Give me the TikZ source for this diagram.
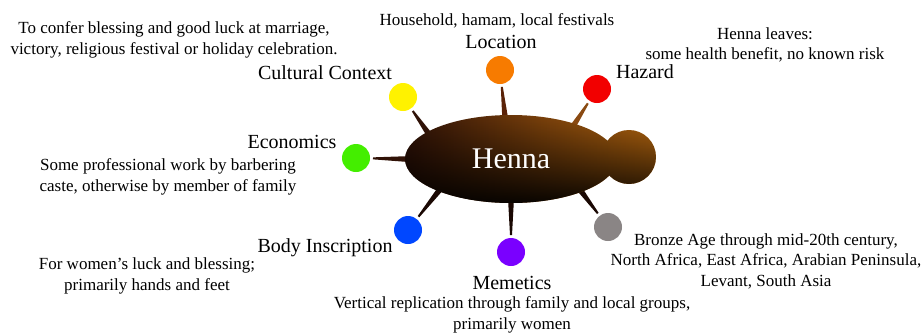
\documentclass[tikz,border=0pt]{standalone}
\usepackage{fontspec}
\setmainfont{Liberation Serif}
\usetikzlibrary{shapes.geometric, calc, fadings, backgrounds}

\definecolor{hennadark}{HTML}{301207}
\definecolor{hennared}{HTML}{923A16}
\definecolor{hennaorange}{HTML}{B8680F}
\definecolor{spikedark}{HTML}{1A0803}
\definecolor{spikebrown}{HTML}{5A2208}
\definecolor{spikeorange}{HTML}{8A4A12}
\tikzfading[name=hennafade, top color=transparent!100, middle color=transparent!88, bottom color=transparent!8]

\NewDocumentCommand{\spike}{m m O{spikedark}}{%
  \coordinate (sb) at ($(henna.#1)!-5pt!(#2)$);
  \coordinate (st) at ($(#2)!17pt!(sb)$);
  \fill[#3] ($(sb)!3pt!90:(#2)$) -- ($(st)!1pt!-90:(sb)$) -- ($(st)!1pt!90:(sb)$) -- ($(sb)!3pt!-90:(#2)$) -- cycle;
}

\begin{document}
\begin{tikzpicture}[x=1pt, y=-1pt,
    dot/.style={circle, minimum size=28pt, inner sep=0pt},
    lab/.style={font=\fontsize{20}{24}\selectfont},
    note/.style={align=center, font=\fontsize{17}{20.5}\selectfont}]
    \useasboundingbox (0,0) rectangle (923,333);

    \node[ellipse, minimum width=212pt, minimum height=88pt, inner sep=0pt, text=white,
      font=\fontsize{30}{36}\selectfont] (henna) at (511,159) {Henna};
    \coordinate (bump) at (629,157);

    \node[dot, fill={rgb,255:red,255;green,242;blue,0}] (cult) at (403,97) {};
    \node[dot, fill={rgb,255:red,247;green,123;blue,0}] (loc) at (500,70) {};
    \node[dot, fill={rgb,255:red,242;green,0;blue,0}] (haz) at (597,89) {};
    \node[dot, fill={rgb,255:red,68;green,238;blue,0}] (econ) at (356,158) {};
    \node[dot, fill={rgb,255:red,0;green,71;blue,255}] (body) at (408,230) {};
    \node[dot, fill={rgb,255:red,122;green,0;blue,255}] (mem) at (511,252) {};
    \node[dot, fill={rgb,255:red,138;green,133;blue,133}] (geo) at (608,227) {};

    \begin{scope}[on background layer]
      \spike{162}{cult}[hennadark]
      \spike{98}{loc}[spikebrown]
      \spike{29}{haz}[spikeorange]
      \spike{180}{econ}[hennadark]
      \spike{204}{body}
      \spike{270}{mem}
      \spike{335}{geo}
      \shade[left color=hennadark, middle color=hennared, right color=hennaorange]
        (henna.center) ellipse [x radius=106, y radius=44] (bump) circle [radius=27];
      \fill[black, path fading=hennafade]
        (henna.center) ellipse [x radius=106, y radius=44] (bump) circle [radius=27];
    \end{scope}

    \node[lab] (culthead) at (325,73) {Cultural Context};
    \node[note] (culttext) at (174,40) {To confer blessing and good luck at marriage,\\victory, religious festival or holiday celebration.};
    \node[lab] (lochead) at (501,42) {Location};
    \node[note] (loctext) at (497,21) {Household, hamam, local festivals};
    \node[lab] (hazhead) at (645,72) {Hazard};
    \node[note] (haztext) at (765,45) {Henna leaves:\\some health benefit, no known risk};
    \node[lab] (econhead) at (292,142) {Economics};
    \node[note] (econtext) at (168,177) {Some professional work by barbering\\caste, otherwise by member of family};
    \node[lab] (bodyhead) at (325,248) {Body Inscription};
    \node[note] (bodytext) at (147,276) {For women’s luck and blessing;\\primarily hands and feet};
    \node[lab] (memhead) at (512,283) {Memetics};
    \node[note] (memtext) at (512,315) {Vertical replication through family and local groups,\\primarily women};
    \node[note] (geotext) at (766,261) {Bronze Age through mid-20th century,\\North Africa, East Africa, Arabian Peninsula,\\Levant, South Asia};
\end{tikzpicture}
\end{document}
